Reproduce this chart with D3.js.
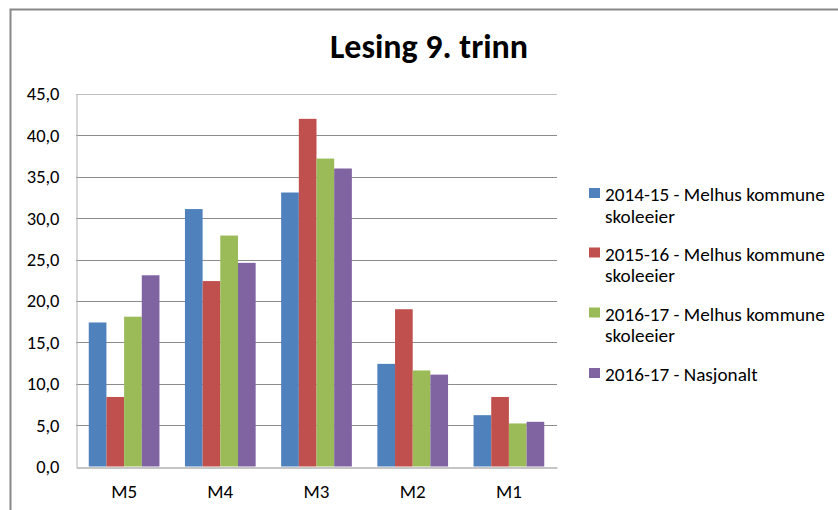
<!DOCTYPE html>
<html>
<head>
<meta charset="utf-8">
<script src="https://cdn.jsdelivr.net/npm/d3@7"></script>
<style>
  body { margin: 0; background: #fff; }
  text { font-family: Carlito, Lato, sans-serif; }
</style>
</head>
<body>
<svg width="838" height="510"></svg>
<script>
// values
const categories = ["M5", "M4", "M3", "M2", "M1"];
const seriesNames = [
	"2014-15 - Melhus kommune skoleeier",
	"2015-16 - Melhus kommune skoleeier",
	"2016-17 - Melhus kommune skoleeier",
	"2016-17 - Nasjonalt"
];
const s2014 = [17.4, 31.1, 33.1, 12.4, 6.2];
const s2015 = [8.4, 22.4, 42.0, 19.0, 8.4];
const s2016 = [18.1, 27.9, 37.2, 11.6, 5.2];
const sNasj = [23.1, 24.6, 36.0, 11.1, 5.4];
const yTicks = [0, 5, 10, 15, 20, 25, 30, 35, 40, 45];
const colors = ["#4F81BD", "#C0504D", "#9BBB59", "#8064A2"];

const allSeries = [s2014, s2015, s2016, sNasj];

const svg = d3.select("svg");

// outer chart frame
svg.append("rect")
	.attr("x", 10.5).attr("y", 9.5)
	.attr("width", 900).attr("height", 600)
	.attr("fill", "none").attr("stroke", "#888").attr("stroke-width", 2);

const plotL = 76, plotR = 557, plotT = 94, plotB = 466.5;

const x0 = d3.scaleBand().domain(categories).range([plotL, plotR]);
const groupW = x0.bandwidth() * 0.735;
const x1 = d3.scaleBand().domain(d3.range(seriesNames.length)).range([0, groupW]);
const y = d3.scaleLinear().domain([0, 45]).range([plotB, plotT]);

// gridlines
svg.append("g")
	.selectAll("line")
	.data(yTicks.slice(1))
	.join("line")
	.attr("x1", plotL).attr("x2", plotR)
	.attr("y1", d => Math.round(y(d)) + 0.5).attr("y2", d => Math.round(y(d)) + 0.5)
	.attr("stroke", d => d === 45 ? "#c0c0c0" : "#8c8c8c")
	.attr("stroke-width", 1);

// y axis
const yAxis = d3.axisLeft(y).tickValues(yTicks).tickSize(0).tickPadding(17)
	.tickFormat(d => d3.format(".1f")(d).replace(".", ","));
svg.append("g")
	.attr("transform", `translate(${plotL + 0.5},0)`)
	.call(yAxis)
	.call(g => g.select(".domain").attr("stroke", "#b0b0b0"))
	.call(g => g.selectAll("text").attr("font-size", 18.5).attr("fill", "#000"));

// bars
const rows = categories.map((c, i) => ({ cat: c, vals: allSeries.map(s => s[i]) }));
svg.append("g")
	.selectAll("g")
	.data(rows)
	.join("g")
	.attr("transform", d => `translate(${x0(d.cat) + (x0.bandwidth() - groupW) / 2},0)`)
	.selectAll("rect")
	.data(d => d.vals.map((v, k) => ({ k, v })))
	.join("rect")
	.attr("x", d => x1(d.k))
	.attr("width", x1.bandwidth())
	.attr("y", d => y(d.v))
	.attr("height", d => y(0) - y(d.v))
	.attr("fill", d => colors[d.k]);

// x axis
const xAxis = d3.axisBottom(x0).tickSize(0).tickPadding(17);
svg.append("g")
	.attr("transform", `translate(0,${Math.round(plotB) + 0.5})`)
	.call(xAxis)
	.call(g => g.select(".domain").attr("stroke", "#8c8c8c"))
	.call(g => g.selectAll("text").attr("font-size", 19).attr("fill", "#000"));

// title
svg.append("text")
	.attr("x", 429).attr("y", 58)
	.attr("text-anchor", "middle")
	.attr("font-size", 34).attr("font-weight", "bold")
	.text("Lesing 9. trinn");

// legend
const legend = svg.append("g").attr("transform", "translate(589,0)");
const legY = [193, 252.5, 312.5, 373];
seriesNames.forEach((name, i) => {
	const item = legend.append("g").attr("transform", `translate(0,${legY[i]})`);
	item.append("rect").attr("x", 0).attr("y", -5).attr("width", 11).attr("height", 10)
		.attr("fill", colors[i]);
	const parts = name.includes("skoleeier") ? [name.replace(" skoleeier", ""), "skoleeier"] : [name];
	parts.forEach((p, j) => {
		item.append("text")
			.attr("x", 16).attr("y", 8 + j * 21.5)
			.attr("font-size", 19.2)
			.text(p);
	});
});
</script>
</body>
</html>
